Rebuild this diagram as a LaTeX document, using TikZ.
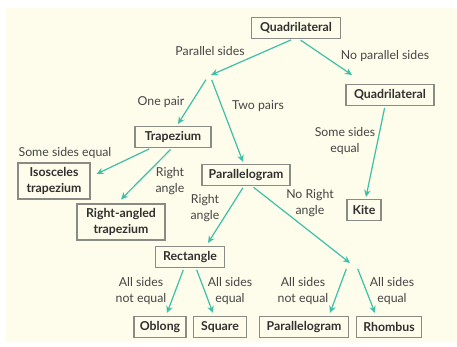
\documentclass[tikz,border=0pt]{standalone}
\usepackage{fontspec}
\setmainfont{Lato}
\usetikzlibrary{arrows.meta}
\definecolor{bgcream}{HTML}{FEFCEA}
\definecolor{arrowteal}{HTML}{3DBFA8}
\definecolor{boxgray}{HTML}{8A8A86}
\definecolor{boxtxt}{HTML}{303030}
\definecolor{lbltxt}{HTML}{454545}
\begin{document}
\begin{tikzpicture}[x=1pt,y=-1pt,
  box/.style={draw=boxgray, line width=1.1pt, fill=bgcream, text=boxtxt,
    font=\bfseries\fontsize{12.3}{15.5}\selectfont, inner sep=2pt,
    minimum height=21pt, align=center},
  lbl/.style={font=\fontsize{12.3}{16.5}\selectfont, text=lbltxt, align=center, inner sep=0pt},
  arr/.style={draw=arrowteal, line width=1.2pt, shorten <=2pt,
    -{Stealth[length=7pt,width=6.5pt]}}]
\useasboundingbox (0,0) rectangle (457,347);
\fill[white] (0,0) rectangle (457,347);
\fill[bgcream] (6,8) rectangle (457,342);

% nodes
\node[box, minimum width=89pt] (q1) at (296,28) {Quadrilateral};
\node[box, minimum width=88pt] (q2) at (390,95) {Quadrilateral};
\node[box, minimum width=76pt] (trap) at (173,137) {Trapezium};
\node[box, minimum width=72pt, minimum height=36pt] (iso) at (54,181) {Isosceles\\trapezium};
\node[box, minimum width=88pt, minimum height=36pt] (ra) at (121,222) {Right-angled\\trapezium};
\node[box, minimum width=88pt] (par) at (246,175) {Parallelogram};
\node[box, minimum width=34pt] (kite) at (364,210) {Kite};
\node[box, minimum width=69pt] (rect) at (190,257) {Rectangle};
\node[box, minimum width=52pt] (ob) at (160,327) {Oblong};
\node[box, minimum width=53pt] (sq) at (220,327) {Square};
\node[box, minimum width=89pt] (parb) at (304,327) {Parallelogram};
\node[box, minimum width=65pt] (rh) at (389,327) {Rhombus};

% branch points
\coordinate (pa) at (211,75);
\coordinate (pas) at (209,78);
\coordinate (pb) at (352,75);
\coordinate (pc) at (350,263);
\coordinate (pcs) at (352,267);

% connectors
\draw[arr] ([xshift=-3pt]q1.south) -- (pa);
\draw[arr] ([xshift=3pt]q1.south) -- (pb);
\draw[arr] ([xshift=-2pt]pas) -- ([xshift=5pt,yshift=2pt]trap.north);
\draw[arr] ([xshift=2pt]pas) -- ([xshift=-3pt,yshift=2pt]par.north);
\draw[arr] ([xshift=-5pt]q2.south) -- ([xshift=2pt,yshift=2pt]kite.north);
\draw[arr] ([xshift=-22pt]trap.south) -- ([xshift=6pt,yshift=7pt]iso.east);
\draw[arr] ([xshift=-1pt]trap.south) -- ([yshift=4pt]ra.north);
\draw[arr] ([xshift=-2pt]par.south) -- ([xshift=18pt,yshift=3pt]rect.north);
\draw[arr] ([xshift=6pt]par.south) -- (pc);
\draw[arr] ([xshift=-5pt]pcs) -- ([xshift=26pt,yshift=3pt]parb.north);
\draw[arr] ([xshift=5pt]pcs) -- ([xshift=-14pt,yshift=3pt]rh.north);
\draw[arr] ([xshift=-6pt]rect.south) -- ([xshift=7pt,yshift=3pt]ob.north);
\draw[arr] ([xshift=6pt]rect.south) -- ([xshift=-7pt,yshift=3pt]sq.north);

% labels
\node[lbl] (l1) at (210,51) {Parallel sides};
\node[lbl] (l2) at (385,56) {No parallel sides};
\node[lbl] (l3) at (161,102) {One pair};
\node[lbl] (l4) at (258,106) {Two pairs};
\node[lbl] (l5) at (65,153) {Some sides equal};
\node[lbl] (l6) at (170,181) {Right\\angle};
\node[lbl] (l7) at (205,208) {Right\\angle};
\node[lbl] (l8) at (310,203) {No Right\\angle};
\node[lbl] (l9) at (345,141) {Some sides\\equal};
\node[lbl] (l10) at (141,291) {All sides\\not equal};
\node[lbl] (l11) at (230,291) {All sides\\equal};
\node[lbl] (l12) at (303,291) {All sides\\not equal};
\node[lbl] (l13) at (392,291) {All sides\\equal};
\end{tikzpicture}
\end{document}
